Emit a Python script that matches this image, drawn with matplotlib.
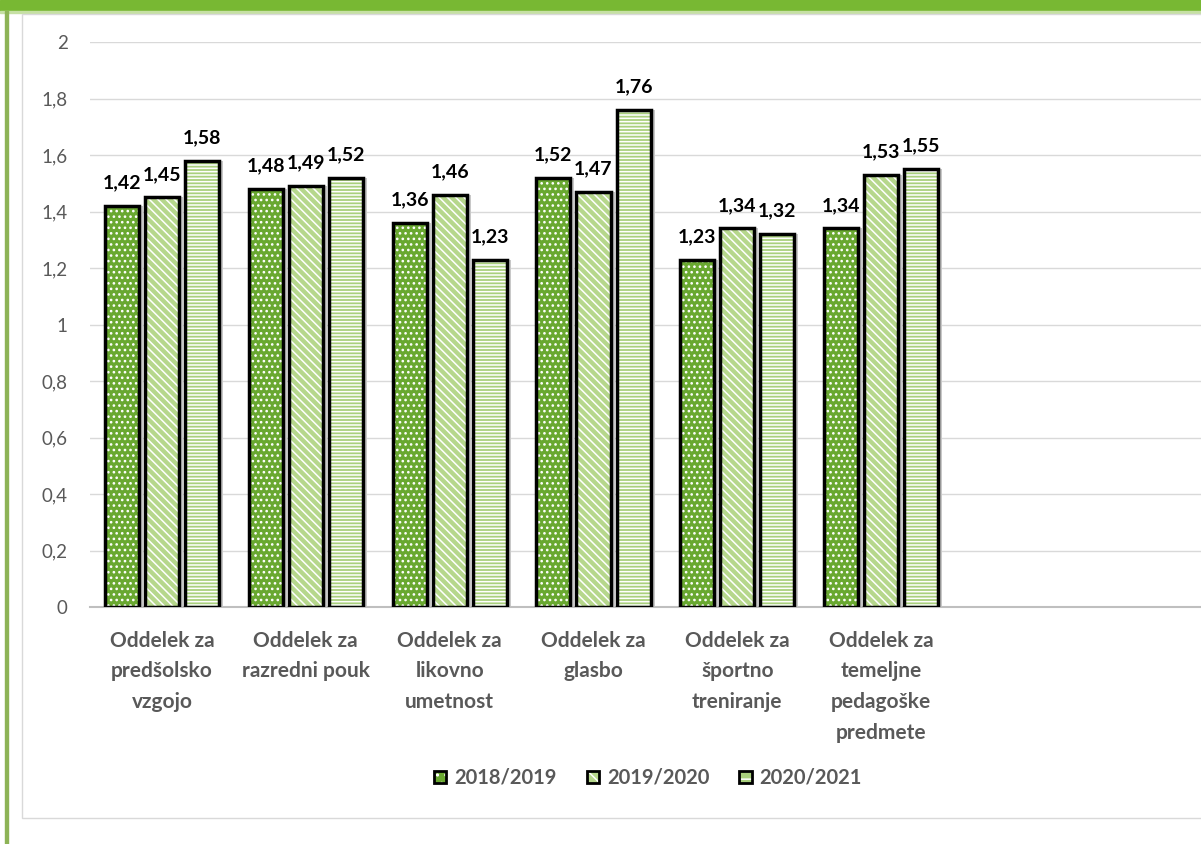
# Recreate the grouped hatched bar chart (Oddelek comparison) and save it as out.png
import matplotlib.pyplot as plt
from matplotlib.patches import Patch, Rectangle
import numpy as np

categories = [
    "Oddelek za\npredšolsko\nvzgojo",
    "Oddelek za\nrazredni pouk",
    "Oddelek za\nlikovno\numetnost",
    "Oddelek za\nglasbo",
    "Oddelek za\nšportno\ntreniranje",
    "Oddelek za\ntemeljne\npedagoške\npredmete",
]
years = ["2018/2019", "2019/2020", "2020/2021"]
v2018 = [1.42, 1.48, 1.36, 1.52, 1.23, 1.34]
v2019 = [1.45, 1.49, 1.46, 1.47, 1.34, 1.53]
v2020 = [1.58, 1.52, 1.23, 1.76, 1.32, 1.55]
yticks = [0, 0.2, 0.4, 0.6, 0.8, 1.0, 1.2, 1.4, 1.6, 1.8, 2.0]

series = [v2018, v2019, v2020]
faces = ["#69a830", "#b6d78c", "#a9d07d"]
hatches = ["...", "\\\\\\\\", "-----"]

plt.rcParams['font.family'] = ['Lato', 'DejaVu Sans']
plt.rcParams['hatch.linewidth'] = 1.1

W, H = 1201, 844
fig = plt.figure(figsize=(W / 100, H / 100), dpi=100)

# outer frame: green top band, green left line, grey chart-area box
fig.patches.append(Rectangle((0, 1 - 11 / H), 1, 11 / H, transform=fig.transFigure,
                             color="#78b833", zorder=0))
fig.patches.append(Rectangle((0, 1 - 13 / H), 1, 2 / H, transform=fig.transFigure,
                             color="#c6e0a4", zorder=0))
fig.patches.append(Rectangle((5 / W, 0), 3 / W, 1 - 11 / H, transform=fig.transFigure,
                             color="#8db356", zorder=0))
fig.patches.append(Rectangle((22 / W, 1 - 818 / H), 1.1, (818 - 14) / H,
                             transform=fig.transFigure, facecolor="white",
                             edgecolor="#d9d9d9", lw=1, zorder=0))

ax = fig.add_axes([90 / W, 1 - 607 / H, 1 - 90 / W + 0.01, (607 - 42) / H])
ax.set_facecolor("none")
ax.set_zorder(2)

step = 143.6
x = np.arange(len(categories))
bw = 34 / step
off = 40 / step

ax.set_xlim(-0.5, -0.5 + (W - 90) / step + 0.07)
ax.set_ylim(0, 2)

for i, (vals, fc, h) in enumerate(zip(series, faces, hatches)):
    xs = x + (i - 1) * off
    # soft shadow
    ax.bar(xs + 4 / step, vals, bw, color="#c8c8c8", zorder=2)
    ax.bar(xs, vals, bw, color=fc, zorder=3)
    ax.bar(xs, vals, bw, facecolor="none", edgecolor="white", hatch=h, lw=0, zorder=4)
    ax.bar(xs, vals, bw, facecolor="none", edgecolor="black", lw=2.5, zorder=5)
    for xi, v in zip(xs, vals):
        ax.annotate(f"{v:.2f}".replace(".", ","), (xi, v), xytext=(0, 16.5),
                    textcoords="offset points", ha="center", va="center",
                    fontsize=14, fontweight="bold", color="black")

ax.set_yticks(yticks)
ax.set_yticklabels([f"{t:g}".replace(".", ",") for t in yticks], fontsize=13.5, color="#595959")
ax.set_xticks(x)
ax.set_xticklabels(categories, fontsize=15, fontweight="bold", color="#595959",
                   linespacing=1.68, va="top")
ax.tick_params(axis="y", length=0, pad=16)
ax.tick_params(axis="x", length=0, pad=17)
ax.grid(axis="y", color="#d9d9d9", lw=1, zorder=0)
ax.set_axisbelow(True)
for s in ["top", "right", "left"]:
    ax.spines[s].set_visible(False)
ax.spines["bottom"].set_color("#bfbfbf")
ax.spines["bottom"].set_linewidth(1.5)

handles = []
for fc, h in zip(faces, hatches):
    handles.append((Patch(facecolor=fc, edgecolor="none"),
                    Patch(facecolor="none", edgecolor="white", hatch=h[:2], lw=0),
                    Patch(facecolor="none", edgecolor="black", lw=2)))
leg = fig.legend(handles, years, loc="center", bbox_to_anchor=(648 / W, 1 - 778 / H),
                 ncol=3, frameon=False, handlelength=0.6, handleheight=0.6,
                 handletextpad=0.4, columnspacing=1.5,
                 prop={"size": 14.5, "weight": "bold"}, labelcolor="#595959")
leg.set_zorder(3)

fig.savefig("out.png", dpi=100)
